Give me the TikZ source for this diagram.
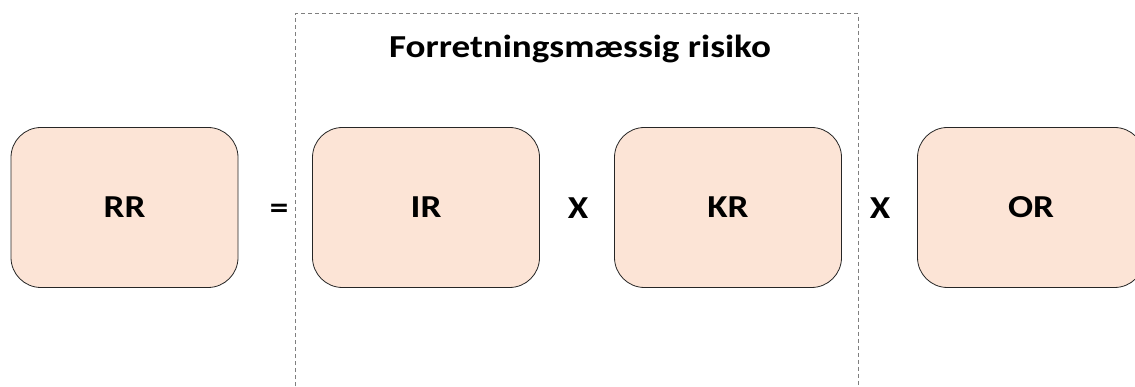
\documentclass[tikz,border=0pt]{standalone}
\usepackage{fontspec}
\setmainfont{Carlito}
\usepackage{graphicx}
\definecolor{riskfill}{HTML}{FCE4D6}
\definecolor{frameGray}{HTML}{7F7F7F}
\newcommand{\wide}[1]{\scalebox{1.16}[1]{#1}}

\begin{document}
\begin{tikzpicture}[x=1pt,y=-1pt,
  riskbox/.style={draw=black!85,fill=riskfill,line width=0.8pt,rounded corners=30pt,
    minimum width=227pt,minimum height=160pt,inner sep=0pt,
    font=\fontsize{32}{34}\selectfont\bfseries},
  bold/.style={font=\fontsize{32}{34}\selectfont\bfseries,inner sep=0pt,anchor=base}]

% white page of the size of the reference
\useasboundingbox [fill=white] (0,0) rectangle (1135,387);
\clip (0,0) rectangle (1135,387);

% dashed frame round the business risk
\draw [frameGray,line width=1pt,dash pattern=on 4pt off 3pt] (295,400) -- (295,14) -- (858,14) -- (858,400);
\node [bold] (bizrisk) at (580,58) {\wide{Forretningsmæssig risiko}};

% risk boxes
\node [riskbox] (rr) at (124.5,207.5) {\wide{RR}};
\node [riskbox] (ir) at (426,207.5) {\wide{IR}};
\node [riskbox] (kr) at (728,207.5) {\wide{KR}};
\node [riskbox] (or) at (1031,207.5) {\wide{OR}};

% operators between the boxes
\node [bold] (eq) at (279,219) {\wide{=}};
\node [bold] (x1) at (578,219) {\wide{X}};
\node [bold] (x2) at (880,219) {\wide{X}};

\end{tikzpicture}
\end{document}
